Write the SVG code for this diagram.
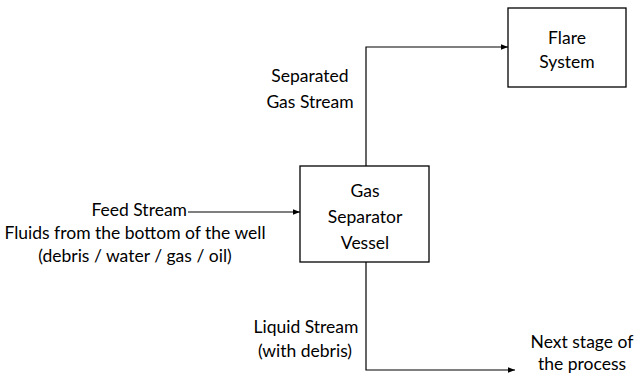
<svg xmlns="http://www.w3.org/2000/svg" width="639" height="375" viewBox="0 0 639 375">
  <style>
    .box { fill: #ffffff; stroke: #000000; stroke-width: 1.3; }
    .line { fill: none; stroke: #000000; stroke-width: 1.2; }
    text { font-family: Lato, "Open Sans", "Liberation Sans", sans-serif; font-size: 17.5px; fill: #000000; text-anchor: middle; }
    .end { text-anchor: end; }
  </style>
  <defs>
    <marker id="arrow" viewBox="0 0 10 10" refX="10" refY="5" markerWidth="7" markerHeight="7" markerUnits="userSpaceOnUse" orient="auto">
      <path d="M0,1 L10,5 L0,9 Z" fill="#000000"/>
    </marker>
  </defs>
  <rect width="639" height="375" fill="#ffffff"/>

  <g id="connectors">
    <path class="line" d="M188,212 H300" marker-end="url(#arrow)"/>
    <path class="line" d="M366,166 V47 H508" marker-end="url(#arrow)"/>
    <path class="line" d="M366,262 V370 H515" marker-end="url(#arrow)"/>
  </g>

  <g id="separator">
    <rect class="box" x="300" y="166" width="129" height="96"/>
    <text x="365" y="197">Gas</text>
    <text x="365" y="223">Separator</text>
    <text x="365" y="249">Vessel</text>
  </g>

  <g id="flare">
    <rect class="box" x="508" y="8" width="118" height="79"/>
    <text x="567" y="44">Flare</text>
    <text x="567" y="68">System</text>
  </g>

  <g id="feed-label">
    <text class="end" x="187" y="216">Feed Stream</text>
    <text x="135" y="239">Fluids from the bottom of the well</text>
    <text x="135" y="262">(debris / water / gas / oil)</text>
  </g>

  <g id="gas-label">
    <text x="310" y="82">Separated</text>
    <text x="310" y="108">Gas Stream</text>
  </g>

  <g id="liquid-label">
    <text x="306" y="333">Liquid Stream</text>
    <text x="305" y="357">(with debris)</text>
  </g>

  <g id="next-stage">
    <text x="582" y="348">Next stage of</text>
    <text x="582" y="370">the process</text>
  </g>
</svg>
